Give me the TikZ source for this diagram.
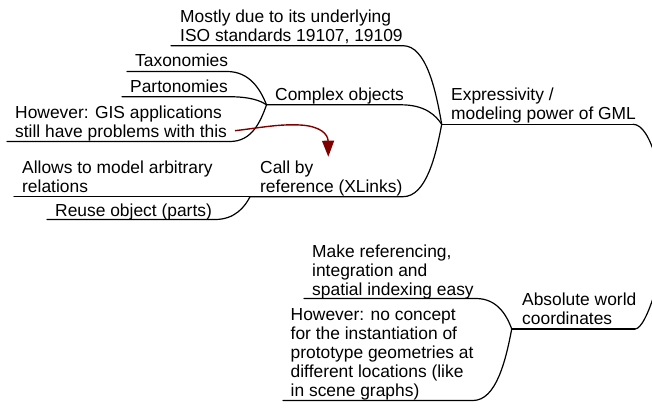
\documentclass[tikz,border=0pt]{standalone}
\usepackage{fontspec}
\setmainfont{Liberation Sans}
\usetikzlibrary{arrows.meta}
\definecolor{linkred}{RGB}{128,0,0}
\tikzset{
  txt/.style={anchor=base west, inner sep=0pt, align=left,
    font=\fontsize{17.4}{19}\selectfont},
  branch/.style={draw=black, line width=1.2pt, line cap=round},
  xref/.style={draw=linkred, line width=1.4pt,
    -{Triangle[length=16pt,width=12pt]}},
}
\begin{document}
\begin{tikzpicture}[x=1pt,y=-1pt]
\useasboundingbox (0,0) rectangle (652,414);
\clip (0,0) rectangle (652,414);

% ---- text of the branches (placed at the baseline of the last line) ----
\node[txt] (iso)   at (180,41.7)  {Mostly due to its underlying\\ISO standards 19107, 19109};
\node[txt] (tax)   at (135,66.7)  {Taxonomies};
\node[txt] (part)  at (130,92.3)  {Partonomies};
\node[txt] (gis)   at (15,137.3)  {However: GIS applications\\still have problems with this};
\node[txt] (cplx)  at (275,100.5) {Complex objects};
\node[txt] (expr)  at (451,119.3) {Expressivity /\\modeling power of GML};
\node[txt] (cref)  at (260,192.7) {Call by\\reference (XLinks)};
\node[txt] (arb)   at (22,192.7)  {Allows to model arbitrary\\relations};
\node[txt] (reuse) at (55,216.5)  {Reuse object (parts)};
\node[txt] (easy)  at (312,295)   {Make referencing,\\integration and\\spatial indexing easy};
\node[txt] (proto) at (290.5,396.7) {However: no concept\\for the instantiation of\\prototype geometries at\\different locations (like\\in scene graphs)};
\node[txt] (abs)   at (522,324)   {Absolute world\\coordinates};

% ---- junctions ----
\coordinate (root)   at (668,226);
\coordinate (j-expr) at (441.7,124.3);
\coordinate (j-cplx) at (266.5,104.8);
\coordinate (j-cref) at (250,196.7);
\coordinate (j-abs)  at (511.7,329);

% ---- underline ends ----
\coordinate (iso-l)   at (171,45.7);   \coordinate (iso-r)   at (403,45.7);
\coordinate (tax-l)   at (127,71.5);   \coordinate (tax-r)   at (227,71.5);
\coordinate (part-l)  at (122,96.7);   \coordinate (part-r)  at (228,96.7);
\coordinate (gis-l)   at (7,141.5);    \coordinate (gis-r)   at (230,141.5);
\coordinate (cplx-r)  at (401,104.8);
\coordinate (expr-r)  at (633,124.3);
\coordinate (cref-r)  at (403,196.7);
\coordinate (arb-l)   at (14,196.7);
\coordinate (reuse-l) at (47,219.5);   \coordinate (reuse-r) at (215,219.5);
\coordinate (easy-l)  at (304,298.5);  \coordinate (easy-r)  at (476,298.5);
\coordinate (proto-l) at (283,400.5);  \coordinate (proto-r) at (473,400.5);
\coordinate (abs-r)   at (635,329);

% ---- branch lines ----
\draw[branch] (expr-r) -- (j-expr);
\draw[branch] (expr-r) .. controls +(18,0) and +(-5,-50) .. (root);
\draw[branch] (abs-r) -- (j-abs);
\draw[branch] (abs-r) .. controls +(12,0) and +(-3,40) .. (root);

\draw[branch] (iso-l) -- (iso-r) .. controls +(23,0) and +(-6,-35) .. (j-expr);
\draw[branch] (j-cplx) -- (cplx-r) .. controls +(24,0) and +(-6,-9) .. (j-expr);
\draw[branch] (j-cref) -- (cref-r) .. controls +(23,0) and +(-6,32) .. (j-expr);

\draw[branch] (tax-l) -- (tax-r) .. controls +(23,0) and +(-6,-15) .. (j-cplx);
\draw[branch] (part-l) -- (part-r) .. controls +(23,0) and +(-6,-4) .. (j-cplx);
\draw[branch] (gis-l) -- (gis-r) .. controls +(22,0) and +(-6,17) .. (j-cplx);

\draw[branch] (arb-l) -- (j-cref);
\draw[branch] (reuse-l) -- (reuse-r) .. controls +(20,0) and +(-5,10) .. (j-cref);

\draw[branch] (easy-l) -- (easy-r) .. controls +(21,0) and +(-5,-14) .. (j-abs);
\draw[branch] (proto-l) -- (proto-r) .. controls +(23,0) and +(-6,32) .. (j-abs);

% ---- cross link ----
\coordinate (x-from) at (235,130.7);
\coordinate (x-to)   at (328.3,156.7);
\draw[xref] (x-from) .. controls (262,127.5) and (278,124) .. (300,125)
  .. controls (320,126) and (328,134) .. (x-to);
\end{tikzpicture}
\end{document}
